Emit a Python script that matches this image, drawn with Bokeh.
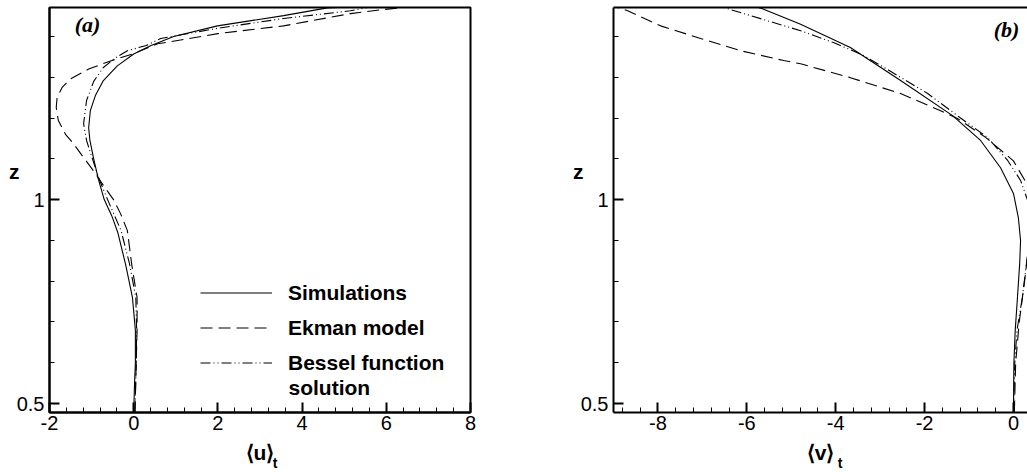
from bokeh.plotting import figure
from bokeh.layouts import row
from bokeh.models import (Range1d, FixedTicker, LinearAxis, Label, Legend,
                          LegendItem, NumeralTickFormatter, CustomJSTickFormatter)
from bokeh.embed import file_html
from bokeh.resources import INLINE

# ---------------- data ----------------
# panel (a): <u>_t versus z
z_sim_u = [0.478, 0.55, 0.60, 0.68, 0.76, 0.84, 0.92, 0.96, 1.00, 1.05, 1.10, 1.145,
           1.176, 1.218, 1.255, 1.292, 1.328, 1.357, 1.377, 1.40, 1.426, 1.451, 1.47, 1.478]
u_sim = [0.0, 0.02, 0.04, 0.04, -0.03, -0.19, -0.38, -0.52, -0.70, -0.84, -0.95, -1.04,
         -1.07, -1.03, -0.91, -0.72, -0.39, 0.0, 0.40, 0.95, 1.99, 3.56, 4.6, 6.3]

z_ek_u = [0.478, 0.60, 0.68, 0.76, 0.843, 0.924, 0.965, 1.00, 1.035, 1.07, 1.103, 1.137,
          1.16, 1.194, 1.226, 1.25, 1.275, 1.296, 1.32, 1.34, 1.358, 1.382, 1.407, 1.426,
          1.456, 1.466, 1.471, 1.476]
u_ek = [0.03, 0.06, 0.08, 0.08, -0.05, -0.15, -0.31, -0.48, -0.72, -0.95, -1.19, -1.43,
        -1.62, -1.79, -1.84, -1.82, -1.70, -1.50, -1.07, -0.55, 0.0, 0.57, 2.0, 3.56,
        5.15, 5.93, 6.4, 7.0]

z_bs_u = [0.478, 0.60, 0.68, 0.76, 0.843, 0.924, 1.00, 1.05, 1.10, 1.145, 1.186, 1.243,
          1.29, 1.324, 1.348, 1.365, 1.378, 1.395, 1.42, 1.444, 1.463, 1.471, 1.476]
u_bs = [0.03, 0.06, 0.07, 0.05, -0.10, -0.30, -0.62, -0.82, -0.98, -1.12, -1.19, -1.12,
        -0.95, -0.72, -0.43, -0.15, 0.30, 0.64, 1.99, 3.56, 5.15, 5.55, 6.3]

# panel (b): <v>_t versus z
z_sim_v = [0.478, 0.60, 0.68, 0.76, 0.843, 0.899, 0.956, 1.015, 1.078, 1.145, 1.206,
           1.292, 1.373, 1.43, 1.468, 1.478]
v_sim = [0.0, 0.01, 0.04, 0.09, 0.14, 0.16, 0.11, 0.0, -0.29, -0.74, -1.37,
         -2.54, -3.67, -4.79, -5.65, -5.95]

z_ek_v = [0.478, 0.60, 0.70, 0.80, 0.90, 1.00, 1.039, 1.095, 1.152, 1.199, 1.218, 1.26,
          1.299, 1.333, 1.341, 1.365, 1.395, 1.426, 1.463, 1.478]
v_ek = [0.02, 0.05, 0.13, 0.25, 0.36, 0.40, 0.30, 0.0, -0.62, -1.26, -1.64, -2.54,
        -3.67, -4.79, -5.17, -6.14, -7.04, -7.94, -8.68, -9.1]

z_bs_v = [0.478, 0.60, 0.68, 0.76, 0.868, 0.998, 1.047, 1.096, 1.152, 1.20, 1.26, 1.32,
          1.355, 1.385, 1.414, 1.468, 1.478]
v_bs = [0.0, 0.03, 0.08, 0.20, 0.32, 0.32, 0.16, -0.13, -0.58, -1.19, -1.93, -2.85,
        -3.40, -4.05, -4.79, -6.43, -6.7]

series_names = ["Simulations", "Ekman model", "Bessel function", "solution"]

u_major = [-2, 0, 2, 4, 6, 8]
u_minor = [-2 + 0.4 * i for i in range(26)]
v_major = [-8, -6, -4, -2, 0]
v_minor = [-9.2 + 0.4 * i for i in range(24)]
z_major = [0.5, 1.0]
z_minor = [0.5 + 0.1 * i for i in range(11)]

# ---------------- styling ----------------
FONT = "Liberation Sans"
SERIF = "Liberation Serif"
DASH = "12 6"
DASHDOT = "10 3 1 3 1 3"


def style_axis(ax, ticker):
    ax.ticker = ticker
    ax.formatter = NumeralTickFormatter(format="0[.][0]")
    ax.axis_line_width = 2
    ax.axis_line_color = "black"
    ax.major_tick_in = 10
    ax.major_tick_out = 0
    ax.minor_tick_in = 5
    ax.minor_tick_out = 0
    ax.major_tick_line_width = 2
    ax.minor_tick_line_width = 1
    ax.major_tick_line_color = "black"
    ax.minor_tick_line_color = "black"
    ax.major_label_text_font = FONT
    ax.major_label_text_font_size = "20px"
    ax.major_label_text_color = "black"
    ax.axis_label_text_font = FONT
    ax.axis_label_text_font_style = "bold"
    ax.axis_label_text_font_size = "21px"
    ax.axis_label_text_color = "black"


def text_axis(pos, text, size, standoff):
    """An axis that only carries one tick label: used to place a title."""
    return LinearAxis(ticker=FixedTicker(ticks=[pos], minor_ticks=[]),
                      formatter=CustomJSTickFormatter(code="return '%s'" % text),
                      axis_line_color=None, major_tick_line_color=None,
                      minor_tick_line_color=None, major_tick_in=0, major_tick_out=0,
                      minor_tick_in=0, minor_tick_out=0,
                      major_label_standoff=standoff, major_label_text_font=FONT,
                      major_label_text_font_style="bold",
                      major_label_text_font_size=size, major_label_text_color="black")


def make_fig(xr, frame_w, border_left, border_right, outline):
    p = figure(x_range=xr, y_range=Range1d(0.478, 1.471),
               frame_width=frame_w, frame_height=405,
               min_border_left=border_left, min_border_right=border_right,
               min_border_top=7, min_border_bottom=60,
               output_backend="svg", toolbar_location=None)
    p.grid.visible = False
    p.background_fill_color = "white"
    p.border_fill_color = "white"
    if outline:
        p.outline_line_color = "black"
        p.outline_line_width = 2
        p.outline_line_alpha = 1.0
    else:
        p.outline_line_color = None
    return p


# ---------------- panel (a) ----------------
p1 = make_fig(Range1d(-2, 8), 421, 49, 40, True)
style_axis(p1.xaxis[0], FixedTicker(ticks=u_major, minor_ticks=u_minor))
p1.xaxis[0].major_label_standoff = 3
p1.xaxis[0].axis_label = "\u27e8u\u27e9"
p1.xaxis[0].axis_label_standoff = 8
style_axis(p1.yaxis[0], FixedTicker(ticks=z_major, minor_ticks=z_minor))
p1.yaxis[0].major_label_standoff = 5
p1.add_layout(text_axis(1.07, "z", "21px", -6), "left")
p1.add_layout(text_axis(3.356, "t", "14px", -12), "below")

r_sim = p1.line(u_sim, z_sim_u, line_color="black", line_width=1.1)
r_ek = p1.line(u_ek, z_ek_u, line_color="black", line_width=1.1, line_dash=DASH)
r_bs = p1.line(u_bs, z_bs_u, line_color="black", line_width=1.1, line_dash=DASHDOT)

legend = Legend(items=[LegendItem(label=series_names[0], renderers=[r_sim]),
                       LegendItem(label=series_names[1], renderers=[r_ek]),
                       LegendItem(label=series_names[2], renderers=[r_bs])],
                location=(151, 37), padding=0, margin=0, spacing=10,
                glyph_width=72, glyph_height=25, label_height=25, label_standoff=16,
                label_text_font=FONT, label_text_font_style="bold",
                label_text_font_size="21px", label_text_color="black",
                border_line_color=None, background_fill_alpha=0)
p1.add_layout(legend, "center")
p1.add_layout(Label(x=3.677, y=0.539, text=series_names[3], text_font=FONT,
                    text_font_style="bold", text_font_size="21px", text_color="black",
                    text_align="left", text_baseline="middle"))
p1.add_layout(Label(x=-1.097, y=1.429, text="(a)", text_font=SERIF,
                    text_font_style="bold italic", text_font_size="22px",
                    text_color="black", text_align="center", text_baseline="middle"))

# ---------------- panel (b) ----------------
p2 = make_fig(Range1d(-9, 0.316), 414, 103, 0, False)
style_axis(p2.xaxis[0], FixedTicker(ticks=v_major, minor_ticks=v_minor))
p2.xaxis[0].major_label_standoff = 3
p2.xaxis[0].axis_label = "\u27e8v\u27e9"
p2.xaxis[0].axis_label_standoff = 8
style_axis(p2.yaxis[0], FixedTicker(ticks=z_major, minor_ticks=z_minor))
p2.yaxis[0].major_label_standoff = 5
p2.add_layout(text_axis(1.07, "z", "21px", -6), "left")
p2.add_layout(text_axis(-3.903, "t", "14px", -12), "below")
top_ax = LinearAxis(ticker=FixedTicker(ticks=[], minor_ticks=[]), axis_line_width=2,
                    axis_line_color="black", major_tick_in=0, major_tick_out=0,
                    minor_tick_in=0, minor_tick_out=0, major_label_text_font_size="0px")
p2.add_layout(top_ax, "above")

p2.line(v_sim, z_sim_v, line_color="black", line_width=1.1)
p2.line(v_ek, z_ek_v, line_color="black", line_width=1.1, line_dash=DASH)
p2.line(v_bs, z_bs_v, line_color="black", line_width=1.1, line_dash=DASHDOT)

p2.add_layout(Label(x=-0.157, y=1.417, text="(b)", text_font=SERIF,
                    text_font_style="bold italic", text_font_size="22px",
                    text_color="black", text_align="center", text_baseline="middle"))

layout = row(p1, p2, spacing=0)
open("out.html", "w").write(file_html(layout, INLINE))
